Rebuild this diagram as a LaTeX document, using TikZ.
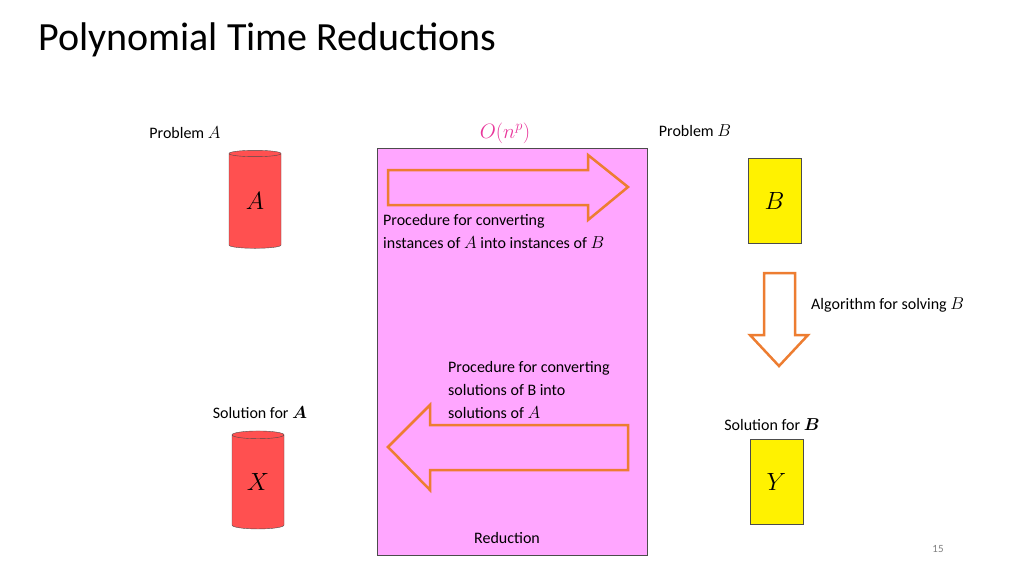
\documentclass[tikz,border=0pt]{standalone}
\usepackage{amsmath,amssymb,bm}
\usepackage{fontspec}
\setmainfont{Carlito}
\usetikzlibrary{shapes.geometric}
\definecolor{pinkbg}{HTML}{FFA6FF}
\definecolor{orng}{HTML}{ED7D31}
\definecolor{cylred}{HTML}{FF5050}
\definecolor{mag}{HTML}{E8359A}
\tikzset{
 txt/.style={font=\fontsize{16}{23}\selectfont, inner sep=0pt},
 cyl/.style={cylinder, shape border rotate=90, aspect=0.35, draw=black!70, fill=cylred, minimum width=52pt, minimum height=98pt, font=\fontsize{36}{36}\selectfont, inner sep=0pt},
 ybox/.style={draw=black!70, fill=yellow, minimum width=53pt, minimum height=85pt, font=\fontsize{34}{34}\selectfont, inner sep=0pt},
 arr/.style={draw=orng, line width=2.5pt, line join=miter}
}
\begin{document}
\begin{tikzpicture}[x=1pt,y=-1pt]
\useasboundingbox (0,0) rectangle (1024,576);
\node[anchor=west, inner sep=0pt, font=\fontsize{40}{40}\selectfont] (title) at (38,40) {Polynomial Time Reductions};
\node[draw=black!70, fill=pinkbg, minimum width=270pt, minimum height=407pt, anchor=north west, inner sep=0pt] (red) at (377,148) {};
\draw[arr, fill=pinkbg] (388,170) -- (588,170) -- (588,155) -- (628,187) -- (588,220) -- (588,205) -- (388,205) -- cycle;
\draw[arr, fill=pinkbg] (628,425) -- (430,425) -- (430,405) -- (388,447) -- (430,490) -- (430,470) -- (628,470) -- cycle;
\draw[arr, fill=white] (764,273) -- (795,273) -- (795,335) -- (808,335) -- (779,366) -- (750,335) -- (764,335) -- cycle;
\node[cyl] (A) at (255,201) {$A$};
\node[cyl] (X) at (258,482) {$X$};
\node[ybox] (B) at (774.5,200.5) {$B$};
\node[ybox] (Y) at (776.5,482) {$Y$};
\node[txt] (pa) at (185,133) {Problem $A$};
\node[txt, text=mag, font=\fontsize{20}{20}\selectfont] (onp) at (505,133) {$O(n^p)$};
\node[txt] (pb) at (695,131) {Problem $B$};
\node[txt, anchor=north west, align=left] (p1) at (383,214) {Procedure for converting\\instances of $A$ into instances of $B$};
\node[txt, anchor=west] (alg) at (811,305) {Algorithm for solving $B$};
\node[txt, anchor=north west, align=left] (p2) at (448,361) {Procedure for converting\\solutions of B into\\solutions of $A$};
\node[txt] (sa) at (260,413) {Solution for $\bm{A}$};
\node[txt] (sb) at (772,425) {Solution for $\bm{B}$};
\node[txt] (rd) at (507,538) {Reduction};
\node[txt, text=black!50, font=\fontsize{11}{11}\selectfont] (pg) at (938,549) {15};
\end{tikzpicture}
\end{document}
